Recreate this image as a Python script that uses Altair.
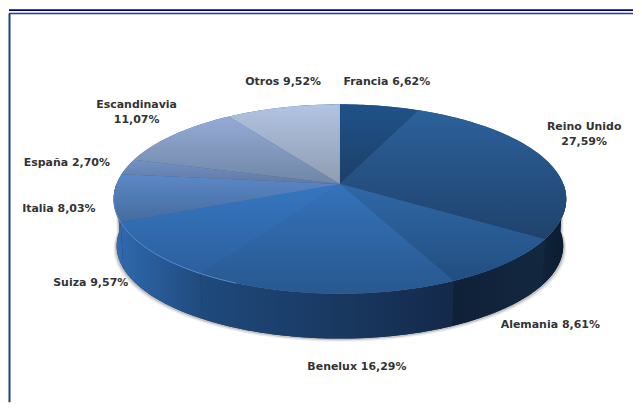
import math
import altair as alt
import pandas as pd

names = ["Francia", "Reino Unido", "Alemania", "Benelux", "Suiza", "Italia", "España", "Escandinavia", "Otros"]
shares = [6.62, 27.59, 8.61, 16.29, 9.57, 8.03, 2.70, 11.07, 9.52]
label_texts = ["Francia 6,62%", "Reino Unido\n27,59%", "Alemania 8,61%", "Benelux 16,29%", "Suiza 9,57%",
               "Italia 8,03%", "España 2,70%", "Escandinavia\n11,07%", "Otros 9,52%"]
label_x = [387, 585, 551, 357, 90, 58, 66, 136, 283]
label_y = [81, 126, 324, 367, 282, 208, 162, 104, 81]
face_top = ["#1f5288", "#2c619b", "#2f68a6", "#3573bb", "#3676c0", "#5c88c8", "#7291c9", "#95abd6", "#b2c4e2"]
face_bottom = ["#1c3f68", "#1f426c", "#224e80", "#28588f", "#2c609e", "#466c9e", "#62799f", "#6f86a6", "#8f9cb0"]
wall_stops = {
    "Italia": ["#3a6dae", "#2f68ac"],
    "Suiza": ["#2f68ac", "#1f4a7c"],
    "Benelux": ["#1f4a7c", "#14294a"],
    "Alemania": ["#0f2037", "#13283f"],
    "Reino Unido": ["#10233b", "#0b1b2f"],
}

# picture geometry of the tilted disc
CX, CY, RX, RY, TILT = 340, 198, 227, 95, 15 / 95
DEPTH, BOTTOM_RX, BOTTOM_RY = 47, 224, 93
W, H = 626, 394
A = RX * math.sqrt(1 - TILT ** 2)


def rim(t):
    u, v = math.sin(t), math.cos(t)
    d = 1 + TILT * v
    return CX + A * u / d, CY - (RY * v + RY * TILT) / d


def bottom(t):
    x, y = rim(t)
    return CX + (x - CX) * BOTTOM_RX / RX, CY + DEPTH - (CY - y) * BOTTOM_RY / RY


APEX = (CX, CY - RY * TILT)
edges = [0.0]
for s in shares:
    edges.append(edges[-1] + s)
total = edges[-1]
angle = [2 * math.pi * e / total for e in edges]


def steps(a, b, n=60):
    return [a + (b - a) * i / n for i in range(n + 1)]


xs = alt.X("x:Q", axis=None, scale=alt.Scale(domain=[8, 8 + W]))
ys = alt.Y("y:Q", axis=None, scale=alt.Scale(domain=[8 + H, 8]))


def polygon(points, **mark):
    df = pd.DataFrame(points, columns=["x", "y"]).assign(i=range(len(points)))
    return alt.Chart(df).mark_line(filled=True, interpolate="linear-closed", **mark).encode(x=xs, y=ys, order="i:Q")


def gradient(c1, c2, horizontal=False):
    return alt.Gradient(gradient="linear", stops=[alt.GradientStop(offset=0, color=c1), alt.GradientStop(offset=1, color=c2)],
                        x1=0, y1=0, x2=1 if horizontal else 0, y2=0 if horizontal else 1)


layers = []
front = steps(math.pi / 2, 3 * math.pi / 2, 120)
top_front = [rim(t) for t in front]
low_front = [bottom(t) for t in front]

# soft shadow below the wall
for grow, op in [(3.0, 0.12), (1.6, 0.25)]:
    pts = top_front + [(CX + (x - CX) * (1 + grow / 224), y + grow) for x, y in reversed(low_front)]
    layers.append(polygon(pts, fill="#555555", opacity=op, stroke=None))

# side wall: a dark base first so no seams show
layers.append(polygon(top_front + low_front[::-1], fill="#16304f", stroke=None))
for i, name in enumerate(names):
    if name not in wall_stops:
        continue
    a = max(angle[i], math.pi / 2)
    b = min(angle[i + 1], 3 * math.pi / 2)
    top_pts = [rim(t) for t in steps(a, b)]
    low_pts = [bottom(t) for t in steps(a, b)]
    c1, c2 = wall_stops[name]
    layers.append(polygon(top_pts + low_pts[::-1], fill=gradient(c1, c2, True), stroke=None))

# top face: a base disc first, then the slices
layers.append(polygon([rim(t) for t in steps(0, 2 * math.pi, 180)], fill="#2c5f98", stroke=None))
for i in range(len(names)):
    pts = [APEX] + [rim(t) for t in steps(angle[i], angle[i + 1])]
    layers.append(polygon(pts, fill=gradient(face_top[i], face_bottom[i]), stroke=None))

# lit front edge on the left of the rim
edge_df = pd.DataFrame([rim(t) for t in steps(3.55, 4.6)], columns=["x", "y"]).assign(i=range(61))
layers.append(alt.Chart(edge_df).mark_line(color="#5f97dc", strokeWidth=1, opacity=0.8).encode(x=xs, y=ys, order="i:Q"))

# frame
frame_top = pd.DataFrame({"x": [8], "x2": [8 + W], "y": [12]})
frame_side = pd.DataFrame({"x": [8.5], "y": [12], "y2": [8 + H]})
layers.append(alt.Chart(frame_top).mark_rule(color="#1f3f85", strokeWidth=1.5).encode(x=xs, x2="x2:Q", y=ys))
layers.append(alt.Chart(frame_side).mark_rule(color="#1f3f85", strokeWidth=2).encode(x=xs, y=ys, y2="y2:Q"))
bar = pd.DataFrame({"x": [8], "x2": [8 + W], "y": [8.5]})
layers.append(alt.Chart(bar).mark_rule(color="#00008b", strokeWidth=2).encode(x=xs, x2="x2:Q", y=ys))

# labels
labels = pd.DataFrame({"x": label_x, "y": label_y, "t": label_texts})
layers.append(alt.Chart(labels).mark_text(font="DejaVu Sans", fontWeight="bold", fontSize=11, color="#333333",
                                          lineBreak="\n", lineHeight=15, align="center", baseline="middle")
              .encode(x=xs, y=ys, text="t:N"))

chart = alt.layer(*layers).properties(width=W, height=H, padding=0, background="#ffffff").configure_view(stroke=None)
chart.save("out.html", embed_options={"renderer": "svg", "actions": False})
